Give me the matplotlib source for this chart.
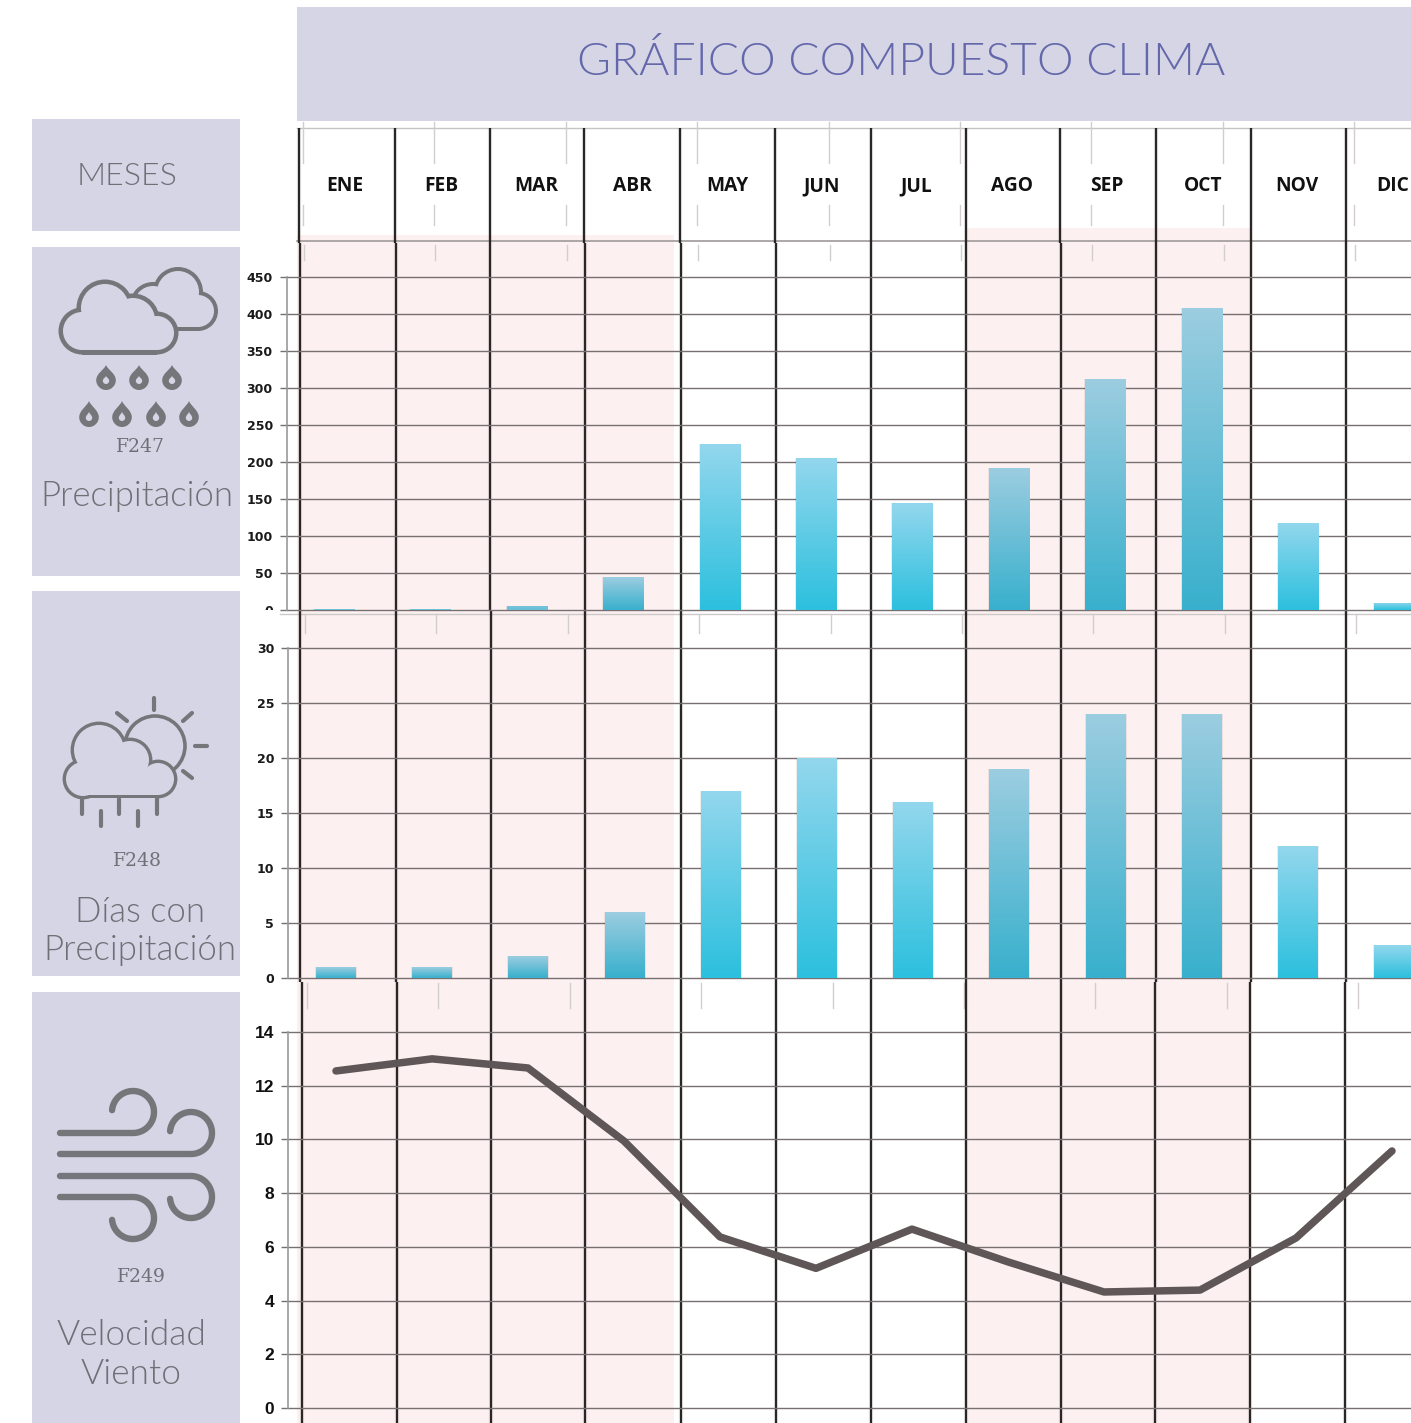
import numpy as np
import matplotlib
matplotlib.use("Agg")
import matplotlib.pyplot as plt
from matplotlib.patches import Rectangle, Circle, PathPatch
from matplotlib.path import Path
from matplotlib.colors import LinearSegmentedColormap
from matplotlib.transforms import Bbox

W, H = 1411, 1423

# data
meses = ["ENE", "FEB", "MAR", "ABR", "MAY", "JUN", "JUL", "AGO", "SEP", "OCT", "NOV", "DIC"]
precipitacion = [2, 2, 5, 44, 224, 205, 144, 192, 312, 408, 118, 10]
dias_precipitacion = [1, 1, 2, 6, 17, 20, 16, 19, 24, 24, 12, 3]
velocidad_viento = [12.55, 13.0, 12.66, 9.94, 6.37, 5.2, 6.66, 5.44, 4.32, 4.39, 6.33, 9.57]
meses_lluviosos = ["ENE", "FEB", "MAR", "ABR", "AGO", "SEP", "OCT"]
ticks_precip = [0, 50, 100, 150, 200, 250, 300, 350, 400, 450]
ticks_dias = [0, 5, 10, 15, 20, 25, 30]
ticks_viento = [0, 2, 4, 6, 8, 10, 12, 14]

LAVANDA = "#d6d5e6"
ROSA = "#fdf0f0"
GRIS_ICONO = "#75767a"
GRIS_TEXTO = "#6f6f76"
TITULO = "#6468aa"

fig = plt.figure(figsize=(W / 100, H / 100), dpi=100, facecolor="white")

# background layer in pixel coordinates, y goes down like the picture
bg = fig.add_axes([0, 0, 1, 1], zorder=0)
bg.set_xlim(0, W)
bg.set_ylim(H, 0)
bg.axis("off")


def caja(x0, y0, x1, y1, color=LAVANDA, z=1):
    bg.add_patch(Rectangle((x0, y0), x1 - x0, y1 - y0, facecolor=color, edgecolor="none", zorder=z))


caja(297, 7, 1411, 121)
caja(32, 119, 240, 231)
caja(32, 247, 240, 576)
caja(32, 591, 240, 976)
caja(32, 992, 240, 1423)

# pink bands behind the rainy months
caja(297, 235, 674, 1423, ROSA)
caja(965, 228, 1250, 1423, ROSA)

# table lines of the month columns, a bit crooked between the rows
cortes = [
    (128, 243, [299, 395, 490, 584, 680, 775, 871, 966, 1060, 1156, 1251, 1346]),
    (243, 610, [299.5, 396, 490, 585, 681, 776, 871, 966, 1061, 1156, 1251, 1346]),
    (610, 982, [300, 396, 491, 585, 681, 776, 871, 966, 1061, 1156, 1251, 1346]),
    (982, 1423, [302, 397, 491, 585, 681, 776, 871, 966, 1061, 1155, 1250, 1345]),
]
for y0, y1, xs in cortes:
    for x in xs:
        bg.plot([x, x], [y0, y1], color="#000000", alpha=0.12, lw=3, zorder=2.5, solid_capstyle="butt")
        bg.plot([x, x], [y0, y1], color="#2a2626", lw=1.5, zorder=3, solid_capstyle="butt")

bg.plot([297, W], [128, 128], color="#c4c4c4", lw=1, zorder=2)
bg.plot([297, W], [241, 241], color="#a09a9a", lw=1.2, zorder=2)
bg.plot([280, W], [614, 614], color="#cfcaca", lw=1, zorder=2)

# faint leftover ticks of the old table
for i in range(9):
    for y0, y1, dx in [(122, 163, 0), (205, 225, 0), (245, 260, 1), (614, 633, 2), (983, 1008, 4)]:
        x = 303 + 131.4 * i + dx
        bg.plot([x, x], [y0, y1], color="#d2cece", lw=1, zorder=2)

# texts
bg.text(901, 75, "GRÁFICO COMPUESTO CLIMA", color=TITULO, fontsize=33.3, family="Lato",
        weight=300, ha="center", va="baseline", zorder=5)
rotulos = [
    (127, 185, "MESES", 23),
    (137, 506, "Precipitación", 25),
    (140, 922, "Días con", 25),
    (140, 960, "Precipitación", 25),
    (131, 1345, "Velocidad", 25.5),
    (131, 1384, "Viento", 25.5),
]
for x, y, t, fs in rotulos:
    bg.text(x, y, t, color=GRIS_TEXTO, fontsize=fs, family="Lato", weight=300,
            ha="center", va="baseline", zorder=5)
for x, y, t in [(140, 447, "F247"), (137, 861, "F248"), (141, 1277, "F249")]:
    bg.text(x, y, t, color=GRIS_TEXTO, fontsize=13.5, family="DejaVu Serif",
            ha="center", va="center", zorder=5)

centros_mes = [345, 441, 536, 632, 727, 822, 916, 1012, 1107, 1203, 1297, 1393]
for x, m in zip(centros_mes, meses):
    bg.text(x, 186, m, color="#111111", fontsize=13.8, family="Open Sans", weight="bold",
            ha="center", va="center", zorder=5)


# icons
def nube(circulos, rect, borde, z):
    x0, y0, x1, y1 = rect
    for cx, cy, r in circulos:
        bg.add_patch(Circle((cx, cy), r + borde, facecolor=GRIS_ICONO, edgecolor="none", zorder=z))
    bg.add_patch(Rectangle((x0, y0 - borde), x1 - x0, y1 - y0 + 2 * borde, facecolor=GRIS_ICONO,
                           edgecolor="none", zorder=z))
    for cx, cy, r in circulos:
        bg.add_patch(Circle((cx, cy), r, facecolor=LAVANDA, edgecolor="none", zorder=z + 0.1))
    bg.add_patch(Rectangle((x0, y0), x1 - x0, y1 - y0, facecolor=LAVANDA, edgecolor="none", zorder=z + 0.1))


def forma_gota(cx, ytop, ybot, w):
    verts = [(cx, ytop),
             (cx + 0.2 * w, ytop + 0.2 * (ybot - ytop)), (cx + w, ybot - 1.7 * w), (cx + w, ybot - w),
             (cx + w, ybot - 0.45 * w), (cx + 0.55 * w, ybot), (cx, ybot),
             (cx - 0.55 * w, ybot), (cx - w, ybot - 0.45 * w), (cx - w, ybot - w),
             (cx - w, ybot - 1.7 * w), (cx - 0.2 * w, ytop + 0.2 * (ybot - ytop)), (cx, ytop)]
    return Path(verts, [Path.MOVETO] + [Path.CURVE4] * 12)


def gota(cx, ytop, ybot):
    bg.add_patch(PathPatch(forma_gota(cx, ytop, ybot, 9.8), facecolor=GRIS_ICONO, edgecolor="none", zorder=6))
    bg.add_patch(PathPatch(forma_gota(cx, ytop + 11, ybot - 6, 3.2), facecolor=LAVANDA, edgecolor="none", zorder=6.1))


nube([(178, 292, 21), (153, 305, 19), (198, 311, 16)], (155, 305, 198, 327), 4, 6)
nube([(105, 308, 24), (133, 320, 22), (82, 331, 19), (157, 333, 17)], (82, 325, 157, 350), 4.5, 6.5)
for x in [106, 139, 172]:
    gota(x, 365, 390)
for x in [89, 122, 156, 189]:
    gota(x, 401, 427)

# sun and cloud
bg.add_patch(Circle((155, 746), 30, facecolor=LAVANDA, edgecolor=GRIS_ICONO, lw=2.6, zorder=6))
rayos = [((154, 698), (154, 710)), ((117, 713), (127, 721)), ((183, 721), (192, 713)),
         ((195, 746), (207, 746)), ((183, 771), (192, 778))]
lluvia = [((82, 799), (82, 814)), ((119, 799), (119, 814)), ((157, 799), (157, 814)),
          ((101, 811), (101, 826)), ((138, 811), (138, 826))]
for a, b in rayos + lluvia:
    bg.plot([a[0], b[0]], [a[1], b[1]], color=GRIS_ICONO, lw=3, solid_capstyle="round", zorder=6)
nube([(99, 750, 25), (130, 760, 19), (83, 779, 17), (158, 779, 16)], (83, 770, 158, 795), 3.4, 6.5)


# wind: each line is a straight run closing in a round hook
def viento(y_linea, cx, r, signo, x_ini=60):
    ang = np.radians(np.linspace(0, 265, 60))
    xs = cx + r * np.sin(ang)
    ys = (y_linea - signo * r) + signo * r * np.cos(ang)
    bg.plot(np.r_[x_ini, xs], np.r_[y_linea, ys], color=GRIS_ICONO, lw=4.6,
            solid_capstyle="round", zorder=6)


viento(1133, 133, 21, 1)
viento(1154, 191, 21, 1)
viento(1176, 191, 21, -1)
viento(1197, 133, 21, -1)


def fig_ejes(left, right, top, bottom, ylim, ticks, x0, paso):
    ax = fig.add_axes([left / W, 1 - bottom / H, (right - left) / W, (bottom - top) / H], zorder=2)
    ax.patch.set_alpha(0)
    ax.set_xlim((left - x0) / paso, (right - x0) / paso)
    ax.set_ylim(*ylim)
    ax.set_yticks(ticks)
    ax.set_xticks([])
    for s in ["top", "right", "bottom"]:
        ax.spines[s].set_visible(False)
    ax.spines["left"].set_color("#9a9a9a")
    ax.spines["left"].set_linewidth(1.2)
    ax.grid(axis="y", color="#767070", lw=1.0, clip_on=False)
    ax.set_axisbelow(True)
    ax.tick_params(axis="y", color="#767070", length=5, width=1.0, pad=5)
    return ax


cmap_normal = LinearSegmentedColormap.from_list("normal", ["#93d7ed", "#2cc0de"])
cmap_lluvia = LinearSegmentedColormap.from_list("lluvia", ["#9ccde0", "#38b0cd"])


def barras(ax, valores):
    xl, yl = ax.get_xlim(), ax.get_ylim()
    # soft halo around each bar
    ax.bar(range(len(meses)), valores, width=0.435, color="#000000", alpha=0.07, zorder=2.5)
    bars = ax.bar(range(len(meses)), valores, width=0.415, color="none", edgecolor="none")
    for m, b, v in zip(meses, bars, valores):
        cm = cmap_lluvia if m in meses_lluviosos else cmap_normal
        # bars of a pixel or two show a single mid tone
        grad = np.linspace(0.4, 0.5, 8) if v / yl[1] < 0.02 else np.linspace(0, 1, 128)
        im = ax.imshow(grad.reshape(-1, 1), cmap=cm, vmin=0, vmax=1, aspect="auto", zorder=3,
                       extent=(b.get_x(), b.get_x() + b.get_width(), 0, v))
        im.set_clip_path(b)
    ax.set_xlim(xl)
    ax.set_ylim(yl)


ax1 = fig_ejes(286.7, W, 277, 610, (0, 450), ticks_precip, 334, 96.4)
barras(ax1, precipitacion)
ax2 = fig_ejes(288, W, 648, 978, (0, 30), ticks_dias, 336, 96.2)
barras(ax2, dias_precipitacion)
ax3 = fig_ejes(288, W, 1032, 1408, (0, 14), ticks_viento, 336, 96.0)
ax3.plot(range(len(meses)), velocidad_viento, color="#5f5757", lw=5.4, zorder=3,
         solid_joinstyle="round", solid_capstyle="round")

for ax in (ax1, ax2):
    for t in ax.get_yticklabels():
        t.set_fontsize(9)
        t.set_fontfamily("DejaVu Sans")
        t.set_fontweight("bold")
        t.set_color("#1a1a1a")
for t in ax3.get_yticklabels():
    t.set_fontsize(12.5)
    t.set_fontfamily(["Liberation Sans Narrow", "Liberation Sans"])
    t.set_fontweight("bold")
    t.set_color("#111111")

# the zero of the first chart is cut by the row below
ax1.get_yticklabels()[0].set_clip_box(Bbox([[0, H - 610], [W, H]]))
ax1.get_yticklabels()[0].set_clip_on(True)

fig.savefig("out.png", dpi=100)
